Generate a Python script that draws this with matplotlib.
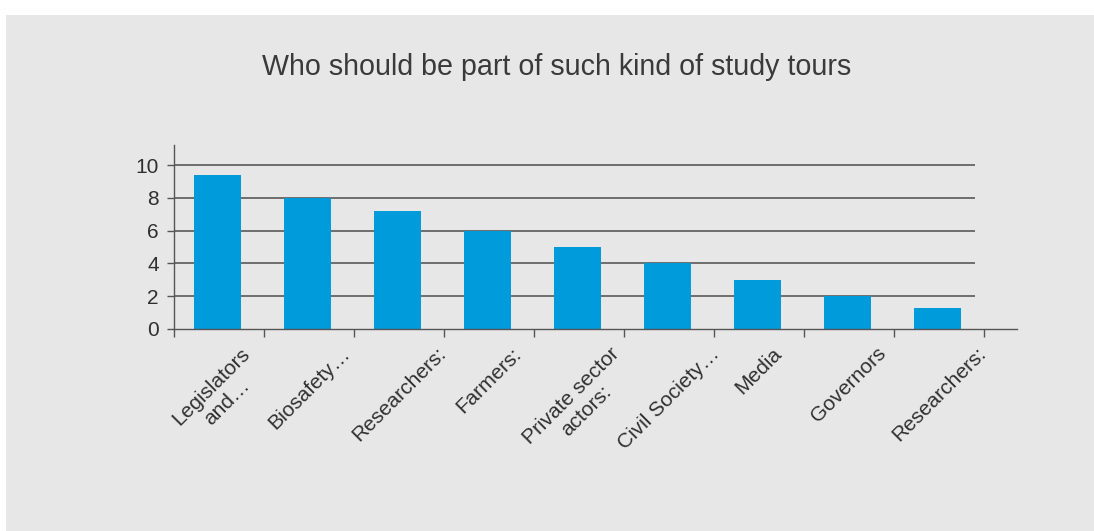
import matplotlib
matplotlib.use("Agg")
import matplotlib.pyplot as plt
from matplotlib.patches import Rectangle
import numpy as np

# chart data
title = "Who should be part of such kind of study tours"
categories = ["Legislators\nand\u2026", "Biosafety\u2026", "Researchers:", "Farmers:",
              "Private sector\nactors:", "Civil Society\u2026", "Media", "Governors",
              "Researchers:"]
values = [9.4, 8.0, 7.2, 6.0, 5.0, 4.0, 3.0, 2.0, 1.25]
y_ticks = [0, 2, 4, 6, 8, 10]

bar_color = "#009bdb"
panel_color = "#e6e7e6"
text_color = "#303030"
line_color = "#555555"

plt.rcParams["font.family"] = ["Liberation Sans", "DejaVu Sans"]

W, H = 1094, 531
fig = plt.figure(figsize=(W / 100, H / 100), dpi=100)
fig.patch.set_facecolor("white")
fig.add_artist(Rectangle((6 / W, 0), 1, (H - 15) / H, transform=fig.transFigure,
                         facecolor=panel_color, edgecolor="none", zorder=-10))

fig.text(557 / W, 1 - 67 / H, title, ha="center", va="center", fontsize=20.6,
         color="#3a3a3a")

ax = fig.add_axes([174 / W, (H - 328.7) / H, (1017 - 174) / W, (328.7 - 145) / H])
ax.set_facecolor("none")

x = np.arange(len(categories))
ax.set_xlim(-0.5, -0.5 + 843 / 90)
ax.set_ylim(0, 11.24)

# gridlines (stop short of the axis end, like the original)
ax.hlines(y_ticks[1:], -0.5, 8.4, color="#4d4d4d", lw=1.1, zorder=1)
ax.bar(x - 0.015, values, width=0.52, color=bar_color, zorder=2)

for s in ["top", "right"]:
    ax.spines[s].set_visible(False)
for s in ["left", "bottom"]:
    ax.spines[s].set_color(line_color)
    ax.spines[s].set_linewidth(1.0)
ax.spines["left"].set_bounds(0, 11.24)

# ticks at category boundaries, labels at centres
ax.set_xticks(np.arange(-0.5, len(categories)), labels=[""] * (len(categories) + 1))
ax.set_xticks(x, labels=categories, minor=True)
ax.tick_params(axis="x", which="major", direction="out", length=6, width=1.0,
               color=line_color)
ax.tick_params(axis="x", which="minor", length=0, pad=11, labelsize=15,
               labelcolor=text_color)
for lbl in ax.get_xticklabels(minor=True):
    lbl.set_rotation(45)
    lbl.set_ha("center")
    lbl.set_multialignment("center")

ax.set_yticks(y_ticks)
ax.tick_params(axis="y", direction="out", length=5, width=1.0, color=line_color,
               pad=6, labelsize=15, labelcolor=text_color)

fig.savefig("out.png", dpi=100, facecolor=fig.get_facecolor())
